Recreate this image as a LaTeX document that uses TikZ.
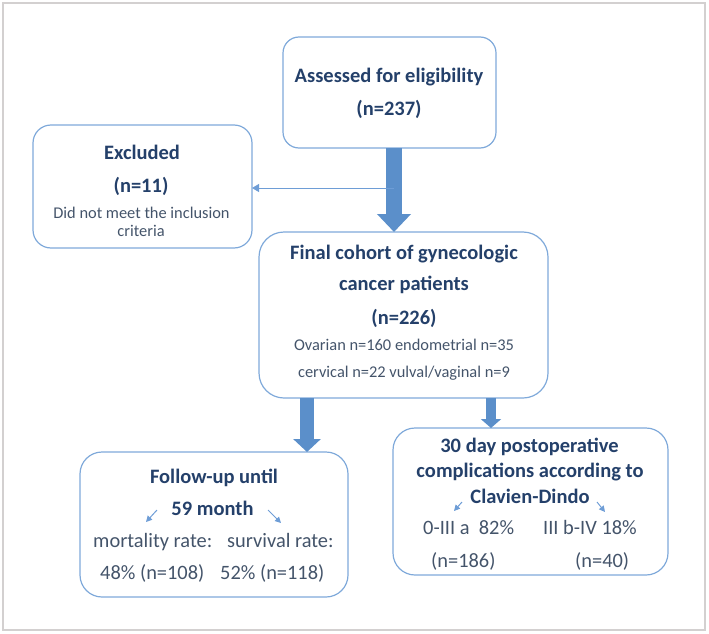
\documentclass[tikz,border=0pt]{standalone}
\usepackage{fontspec}
\setmainfont{Carlito}
\usetikzlibrary{arrows.meta}
\definecolor{titleblue}{HTML}{24406A}
\definecolor{textblue}{HTML}{44546A}
\definecolor{boxline}{HTML}{7FA9DA}
\definecolor{arrowfill}{HTML}{5B8FCA}
\definecolor{thinline}{HTML}{6E9DD6}
\definecolor{framegray}{HTML}{D3D0D0}
\tikzset{
  box/.style={draw=boxline, line width=1.2pt, rectangle, inner sep=0pt, outer sep=0pt},
  ttl/.style={font=\fontsize{20.5}{24}\selectfont\bfseries, text=titleblue, anchor=base, inner sep=0pt},
  big/.style={font=\fontsize{20.4}{24}\selectfont, text=textblue, anchor=base west, inner sep=0pt},
  small/.style={font=\fontsize{16.4}{19}\selectfont, text=textblue, anchor=base, inner sep=0pt},
  bigarrow/.style={draw=arrowfill, color=arrowfill},
  thinarrow/.style={draw=thinline, line width=1pt, -{Triangle[width=8pt,length=7pt]}},
  tinyarrow/.style={draw=thinline, line width=1pt, -{Triangle[width=6pt,length=6pt]}}
}
\begin{document}
\begin{tikzpicture}[x=1pt,y=-1pt]
\useasboundingbox (0,0) rectangle (709,634);
\draw[framegray, line width=2.5pt] (3,3) rectangle (705,630);

% boxes
\node[box, rounded corners=16pt, minimum width=213pt, minimum height=111pt] (assess) at (389.5,92.5) {};
\node[box, rounded corners=18pt, minimum width=219pt, minimum height=123pt] (excl) at (142.5,186.5) {};
\node[box, rounded corners=25pt, minimum width=289pt, minimum height=166pt] (final) at (403.5,315) {};
\node[box, rounded corners=22pt, minimum width=268pt, minimum height=145pt] (follow) at (214,524.5) {};
\node[box, rounded corners=22pt, minimum width=275pt, minimum height=147pt] (comp) at (530.5,501.5) {};

% texts: assessed
\node[ttl] (a1) at (389,82) {Assessed for eligibility};
\node[ttl] (a2) at (389,115) {(n=237)};
% excluded
\node[ttl] (e1) at (142,159) {Excluded};
\node[ttl] (e2) at (141,192) {(n=11)};
\node[small] (e3) at (141.5,218) {Did not meet the inclusion};
\node[small] (e4) at (141,236) {criteria};
% final
\node[ttl] (f1) at (404,259) {Final cohort of gynecologic};
\node[ttl] (f2) at (404,290) {cancer patients};
\node[ttl] (f3) at (404,324) {(n=226)};
\node[small] (f4) at (404,350) {Ovarian n=160 endometrial n=35};
\node[small] (f5) at (404,377) {cervical n=22 vulval/vaginal n=9};
% follow-up
\node[ttl] (u1) at (214,483) {Follow-up until};
\node[ttl] (u2) at (212.5,515) {59 month};
\node[big] (u3) at (93,547) {mortality rate:};
\node[big] (u4) at (227,547) {survival rate:};
\node[big] (u5) at (100,579) {48\% (n=108)};
\node[big] (u6) at (220,579) {52\% (n=118)};
% complications
\node[ttl] (c1) at (529.5,452) {30 day postoperative};
\node[ttl] (c2) at (530,477) {complications according to};
\node[ttl] (c3) at (530,503) {Clavien-Dindo};
\node[big] (c4) at (423,534) {0-III a\ \ 82\%};
\node[big] (c5) at (543,534) {III b-IV 18\%};
\node[big] (c6) at (431,567) {(n=186)};
\node[big] (c7) at (575,567) {(n=40)};

% big arrows
\draw[bigarrow, line width=16pt, -{Triangle[width=33pt,length=18pt]}] ([xshift=4.5pt]assess.south) -- ([xshift=-9.5pt]final.north);
\draw[bigarrow, line width=14pt, -{Triangle[width=27pt,length=13pt]}] ([xshift=-96.5pt]final.south) -- ([xshift=93pt]follow.north);
\draw[bigarrow, line width=10pt, -{Triangle[width=20pt,length=9pt]}] ([xshift=87.5pt]final.south) -- ([xshift=-39.5pt]comp.north);

% thin arrow to excluded
\coordinate (branch) at (394,188);
\draw[thinarrow] (branch) -- (excl.east |- branch);

% small arrows
\coordinate (ul0) at (157,510); \coordinate (ul1) at (146,522);
\coordinate (ur0) at (268,510); \coordinate (ur1) at (281,523);
\coordinate (cl0) at (462,502); \coordinate (cl1) at (454,511);
\coordinate (cr0) at (597,502); \coordinate (cr1) at (605,512);
\draw[tinyarrow] (ul0) -- (ul1);
\draw[tinyarrow] (ur0) -- (ur1);
\draw[tinyarrow] (cl0) -- (cl1);
\draw[tinyarrow] (cr0) -- (cr1);
\end{tikzpicture}
\end{document}
